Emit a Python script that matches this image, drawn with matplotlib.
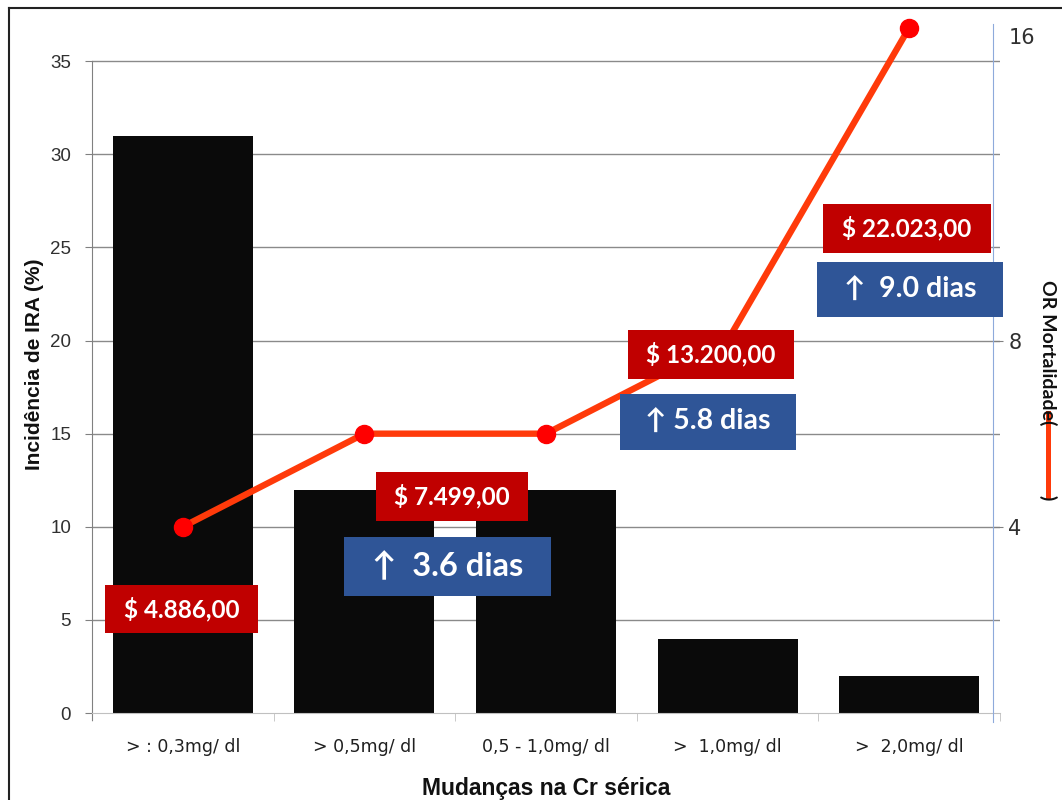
import numpy as np
import matplotlib
matplotlib.use("Agg")
import matplotlib.pyplot as plt
from matplotlib.lines import Line2D
from matplotlib.patches import Rectangle
from matplotlib.scale import FuncScale
import matplotlib.ticker as mticker

# ---------------- data ----------------
categories = ["> : 0,3mg/ dl", "> 0,5mg/ dl", "0,5 - 1,0mg/ dl", ">  1,0mg/ dl", ">  2,0mg/ dl"]
incidence = [31, 12, 12, 4, 2]            # Incidência de IRA (%)
or_mortality = [4, 6, 6, 8, 16]           # OR Mortalidade
cost_labels = ["$ 4.886,00", "$ 7.499,00", "$ 13.200,00", "$ 22.023,00"]
day_labels = ["\u2191  3.6 dias", "\u2191 5.8 dias", "\u2191  9.0 dias"]
left_ticks = [0, 5, 10, 15, 20, 25, 30, 35]
right_ticks = [4, 8]
right_top_tick = [16]

W, H = 1062, 800
fig = plt.figure(figsize=(W / 100, H / 100), dpi=100)

def fx(px):
    return px / W

def fy(py):
    return 1 - py / H

ax_l, ax_r, ax_t, ax_b = 92, 1000, 24, 713
ax = fig.add_axes([fx(ax_l), fy(ax_b), fx(ax_r) - fx(ax_l), fy(ax_t) - fy(ax_b)])

x = np.arange(len(categories))
ax.bar(x, incidence, width=0.77, color="#0a0a0a", zorder=2)
ax.set_xlim(-0.5, len(categories) - 0.5)
ax.set_ylim(0, 37)

# left axis styling
ax.set_yticks(left_ticks)
ax.set_yticklabels([str(t) for t in left_ticks], fontsize=13.5, color="#303030",
                   family="Liberation Sans")
ax.tick_params(axis="y", direction="out", length=5, color="#808080", pad=10)
ax.spines["left"].set_color("#808080")
ax.spines["left"].set_bounds(-0.35, 35)
ax.spines["top"].set_visible(False)
ax.spines["right"].set_visible(False)
ax.spines["bottom"].set_color("#c0c0c0")
for v in left_ticks[1:]:
    ax.axhline(v, color="#8a8a8a", lw=1.0, zorder=1)

ax.set_xticks(x)
ax.set_xticklabels(categories, fontsize=12.5, color="#202020", family="DejaVu Sans")
ax.tick_params(axis="x", length=0, pad=18)
ax.set_xticks(np.arange(-0.5, len(categories), 1.0), minor=True)
ax.tick_params(axis="x", which="minor", length=6, color="#c0c0c0")

# secondary axis (OR) with piecewise scale matching the original chart
src = [-100, 0, 4, 8, 16, 100]
dst = [-250, 0, 10, 20, 36.8, 141.8]
def fwd(v):
    return np.interp(v, src, dst)
def inv(v):
    return np.interp(v, dst, src)

ax2 = ax.twinx()
ax2.set_yscale(FuncScale(ax2, (fwd, inv)))
ax2.set_ylim(0, inv(37))
ax2.plot(x, or_mortality, color="#ff3a0a", lw=4.6, zorder=3, solid_capstyle="round")
ax2.plot(x, or_mortality, "o", color="#ff0000", ms=13, zorder=4, clip_on=False)
ax2.yaxis.set_major_locator(mticker.FixedLocator(right_ticks))
ax2.yaxis.set_major_formatter(mticker.FixedFormatter([str(t) for t in right_ticks]))
ax2.yaxis.set_minor_locator(mticker.FixedLocator(right_top_tick))
ax2.yaxis.set_minor_formatter(mticker.FixedFormatter([str(t) for t in right_top_tick]))
ax2.tick_params(axis="y", which="major", direction="out", length=7, color="#808080",
                labelsize=15, pad=4, labelcolor="#303030")
ax2.tick_params(axis="y", which="minor", length=0, labelsize=15, pad=11, labelcolor="#303030")
for lab in ax2.get_yticklabels(which="both"):
    lab.set_family("Lato")
ax2.spines["right"].set_position(("axes", (993 - ax_l) / (ax_r - ax_l)))
ax2.spines["right"].set_color("#8eaadb")
ax2.spines["right"].set_bounds(inv(-0.5), inv(37))
for s in ["left", "top", "bottom"]:
    ax2.spines[s].set_visible(False)
for lab in ax2.get_yticklabels(which="minor"):
    lab.set_va("top")

# axis titles
fig.text(fx(35), fy(364), "Incidência de IRA (%)", rotation=90, ha="center", va="center",
         fontsize=15, fontweight="bold", family="Liberation Sans", color="#111111")
fig.text(fx(546), fy(788), "Mudanças na Cr sérica", ha="center", va="center",
         fontsize=16.5, fontweight="bold", family="Liberation Sans", color="#111111")

# right title with red line sample
rt = fig.text(fx(1048), fy(280), "OR Mortalidade(", rotation=270, ha="center", va="top",
              fontsize=14, fontweight="bold", family="Lato", color="#111111")
fig.canvas.draw()
bb = rt.get_window_extent(fig.canvas.get_renderer())
end_py = H - bb.y0  # pixel y (from top) where the text ends
bar_top = end_py - 12
bar_bot = bar_top + 84
fig.add_artist(Line2D([fx(1048), fx(1048)], [fy(bar_top), fy(bar_bot)], color="#ff3a0a", lw=3.6))
fig.text(fx(1048), fy(bar_bot - 2), ")", rotation=270, ha="center", va="top",
         fontsize=14, fontweight="bold", family="Lato", color="#111111")

# annotation boxes (pixel layout)
def box(x0, x1, y0, y1, text, fc, size):
    fig.add_artist(Rectangle((fx(x0), fy(y1)), fx(x1) - fx(x0), fy(y0) - fy(y1),
                             transform=fig.transFigure, facecolor=fc, edgecolor="none",
                             zorder=10))
    fig.text(fx((x0 + x1) / 2), fy((y0 + y1) / 2), text, ha="center", va="center",
             color="white", fontsize=size, fontweight="bold",
             family=["Lato", "DejaVu Sans"], zorder=11)

RED = "#c00000"
BLUE = "#2f5597"
box(105, 258, 585, 633, cost_labels[0], RED, 17.5)
box(376, 528, 472, 521, cost_labels[1], RED, 17.5)
box(628, 794, 330, 379, cost_labels[2], RED, 17.5)
box(823, 991, 204, 253, cost_labels[3], RED, 17.5)
box(344, 551, 537, 596, day_labels[0], BLUE, 23.5)
box(620, 796, 394, 450, day_labels[1], BLUE, 20.5)
box(817, 1003, 262, 317, day_labels[2], BLUE, 20.5)

# outer frame (left and top edges)
fig.add_artist(Line2D([fx(9), fx(9)], [fy(8), 0], color="#222222", lw=1.5))
fig.add_artist(Line2D([fx(9), 1], [fy(8), fy(8)], color="#222222", lw=1.5))

fig.savefig("out.png", dpi=100)
